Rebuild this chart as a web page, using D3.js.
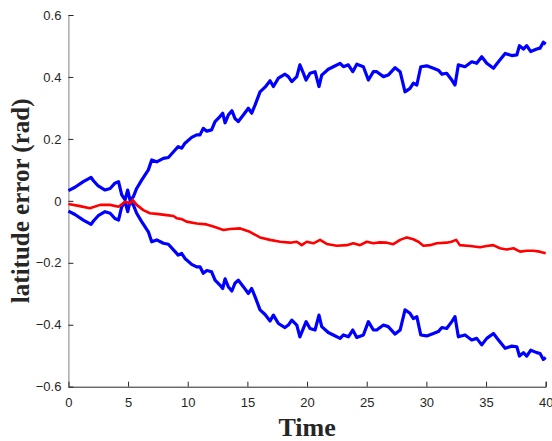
<!DOCTYPE html>
<html>
<head>
<meta charset="utf-8">
<script src="https://d3js.org/d3.v7.min.js"></script>
<style>
  body { margin: 0; background: #fff; }
  #my_dataviz { width: 552px; height: 441px; }
</style>
</head>
<body>
<div id="my_dataviz"></div>
<script>
// time stamps for the two blue bound curves
var boundTime = [0, 0.55, 1.25, 1.9, 2.1, 2.5, 3.07, 3.5, 3.9, 4.2, 4.47, 4.75, 4.97, 5.16, 5.44, 5.72,
  6.14, 6.7, 6.98, 7.4, 7.96, 8.38, 8.94, 9.2, 9.5, 9.77, 10.33, 10.75, 11.03, 11.3, 11.6, 12.0,
  12.29, 12.7, 12.93, 13.13, 13.4, 13.7, 13.96, 14.24, 14.66, 15.08, 15.36, 15.64, 16.06, 16.48,
  16.9, 17.18, 17.6, 18.15, 18.43, 18.72, 19.14, 19.4, 19.69, 19.92, 20.25, 20.67, 21.0, 21.23,
  21.78, 22.2, 22.77, 23.05, 23.46, 23.83, 24.17, 24.72, 25.14, 25.56, 25.84, 26.4, 26.8, 27.38,
  27.8, 28.21, 28.63, 28.91, 29.2, 29.53, 30.03, 30.59, 31.0, 31.3, 31.7, 32.13, 32.4, 32.68,
  33.24, 33.8, 34.22, 34.64, 35.06, 35.62, 36.04, 36.6, 37.16, 37.58, 37.8, 38.13, 38.41, 38.75,
  39.25, 39.53, 39.8, 40];

// upper bound (blue)
var upperBound = [0.033, 0.044, 0.062, 0.076, 0.065, 0.048, 0.035, 0.04, 0.057, 0.062, 0.019, 0.003,
  0.035, 0.003, 0.013, 0.04, 0.067, 0.1, 0.132, 0.126, 0.137, 0.14, 0.164, 0.175, 0.17, 0.186,
  0.205, 0.213, 0.213, 0.234, 0.225, 0.229, 0.256, 0.272, 0.283, 0.252, 0.277, 0.291, 0.266,
  0.256, 0.277, 0.299, 0.283, 0.309, 0.352, 0.367, 0.388, 0.369, 0.396, 0.409, 0.401, 0.385,
  0.401, 0.439, 0.412, 0.39, 0.412, 0.417, 0.369, 0.406, 0.425, 0.433, 0.444, 0.433, 0.439,
  0.417, 0.441, 0.433, 0.39, 0.417, 0.417, 0.401, 0.406, 0.43, 0.417, 0.352, 0.363, 0.38, 0.374,
  0.433, 0.436, 0.428, 0.422, 0.409, 0.412, 0.39, 0.374, 0.439, 0.433, 0.449, 0.444, 0.465,
  0.444, 0.428, 0.449, 0.476, 0.469, 0.471, 0.501, 0.49, 0.501, 0.482, 0.49, 0.493, 0.512, 0.506];

// lower bound (blue), mirror image of the upper one
var lowerBound = [-0.033, -0.044, -0.062, -0.076, -0.065, -0.048, -0.035, -0.04, -0.057, -0.062, -0.019, -0.003,
  -0.035, -0.003, -0.013, -0.04, -0.067, -0.1, -0.132, -0.126, -0.137, -0.14, -0.164, -0.175, -0.17, -0.186,
  -0.205, -0.213, -0.213, -0.234, -0.225, -0.229, -0.256, -0.272, -0.283, -0.252, -0.277, -0.291, -0.266,
  -0.256, -0.277, -0.299, -0.283, -0.309, -0.352, -0.367, -0.388, -0.369, -0.396, -0.409, -0.401, -0.385,
  -0.401, -0.439, -0.412, -0.39, -0.412, -0.417, -0.369, -0.406, -0.425, -0.433, -0.444, -0.433, -0.439,
  -0.417, -0.441, -0.433, -0.39, -0.417, -0.417, -0.401, -0.406, -0.43, -0.417, -0.352, -0.363, -0.38, -0.374,
  -0.433, -0.436, -0.428, -0.422, -0.409, -0.412, -0.39, -0.374, -0.439, -0.433, -0.449, -0.444, -0.465,
  -0.444, -0.428, -0.449, -0.476, -0.469, -0.471, -0.501, -0.49, -0.501, -0.482, -0.49, -0.493, -0.512, -0.506];

// latitude error itself (red)
var errorTime = [0, 0.97, 1.8, 2.65, 3.5, 4.2, 4.75, 5.16, 5.4, 5.72, 6.28, 6.84, 7.4, 8.24, 8.8, 9.07,
  9.5, 9.9, 10.75, 11.58, 12.15, 13.0, 13.55, 14.4, 15.2, 16.06, 16.9, 17.74, 18.57, 19.14, 19.55,
  19.97, 20.53, 21.09, 21.65, 22.49, 23.33, 23.88, 24.44, 25.0, 25.56, 26.1, 26.68, 27.23, 27.8,
  28.36, 28.9, 29.33, 29.75, 30.3, 30.87, 31.7, 32.1, 32.5, 32.8, 33.66, 34.5, 35.06, 35.6, 36.17,
  36.73, 37.3, 37.85, 38.4, 38.97, 39.5, 40];
var errorValue = [-0.01, -0.017, -0.024, -0.013, -0.013, -0.019, -0.003, -0.008, 0.003, -0.013, -0.03,
  -0.04, -0.042, -0.046, -0.049, -0.056, -0.059, -0.067, -0.073, -0.076, -0.083, -0.094, -0.091,
  -0.089, -0.1, -0.118, -0.126, -0.132, -0.135, -0.132, -0.143, -0.132, -0.137, -0.126, -0.139,
  -0.145, -0.143, -0.137, -0.143, -0.132, -0.137, -0.134, -0.135, -0.14, -0.126, -0.118, -0.124,
  -0.132, -0.145, -0.143, -0.137, -0.135, -0.132, -0.126, -0.143, -0.146, -0.15, -0.146, -0.143,
  -0.153, -0.157, -0.153, -0.164, -0.161, -0.161, -0.164, -0.169];

var xTicks = [0, 5, 10, 15, 20, 25, 30, 35, 40];
var yTicks = [-0.6, -0.4, -0.2, 0, 0.2, 0.4, 0.6];

// set the dimensions and margins of the graph
var margin = { top: 15, right: 6.3, bottom: 54.3, left: 68.4 },
    width = 552 - margin.left - margin.right,
    height = 441 - margin.top - margin.bottom;

var svg = d3.select("#my_dataviz")
    .append("svg")
    .attr("width", 552)
    .attr("height", 441)
    .append("g")
    .attr("transform", "translate(" + margin.left + "," + margin.top + ")");

var x = d3.scaleLinear().domain([0, 40]).range([0, width]);
var y = d3.scaleLinear().domain([-0.6, 0.6]).range([height, 0]);

// X axis, ticks pointing inward like matlab
var xAxis = svg.append("g")
    .attr("transform", "translate(0," + height + ")")
    .call(d3.axisBottom(x).tickValues(xTicks).tickSize(-5).tickPadding(11)
        .tickFormat(d3.format("d")));

// Y axis
var yAxis = svg.append("g")
    .call(d3.axisLeft(y).tickValues(yTicks).tickSize(-5).tickPadding(7)
        .tickFormat(function (d) { return d === 0 ? "0" : d3.format(".1f")(d); }));

[xAxis, yAxis].forEach(function (a) {
  a.selectAll("text")
      .attr("fill", "#262626")
      .style("font-family", "Arial, 'Liberation Sans', sans-serif")
      .style("font-size", "13px");
  a.selectAll("line").attr("stroke", "#262626");
  a.select(".domain").attr("stroke", "#262626");
});
yAxis.select(".domain").attr("stroke", "#808080");

// axis titles
svg.append("text")
    .attr("x", width / 2)
    .attr("y", height + 49)
    .style("text-anchor", "middle")
    .style("font-family", "'Times New Roman', 'Liberation Serif', serif")
    .style("font-weight", "bold")
    .style("font-size", "26px")
    .attr("fill", "#262626")
    .text("Time");

svg.append("text")
    .attr("transform", "rotate(-90)")
    .attr("x", -(height / 2))
    .attr("y", -39)
    .style("text-anchor", "middle")
    .style("font-family", "'Times New Roman', 'Liberation Serif', serif")
    .style("font-weight", "bold")
    .style("font-size", "25px")
    .attr("fill", "#262626")
    .text("latitude error (rad)");

function drawLine(times, values, color, w) {
  var pts = times.map(function (t, i) { return { t: t, v: values[i] }; });
  svg.append("path")
      .datum(pts)
      .attr("fill", "none")
      .attr("stroke", color)
      .attr("stroke-width", w)
      .attr("stroke-linejoin", "round")
      .attr("d", d3.line()
          .x(function (d) { return x(d.t); })
          .y(function (d) { return y(d.v); }));
}

drawLine(boundTime, upperBound, "#0000ff", 3.2);
drawLine(boundTime, lowerBound, "#0000ff", 3.2);
drawLine(errorTime, errorValue, "#ff0000", 2.6);
</script>
</body>
</html>
